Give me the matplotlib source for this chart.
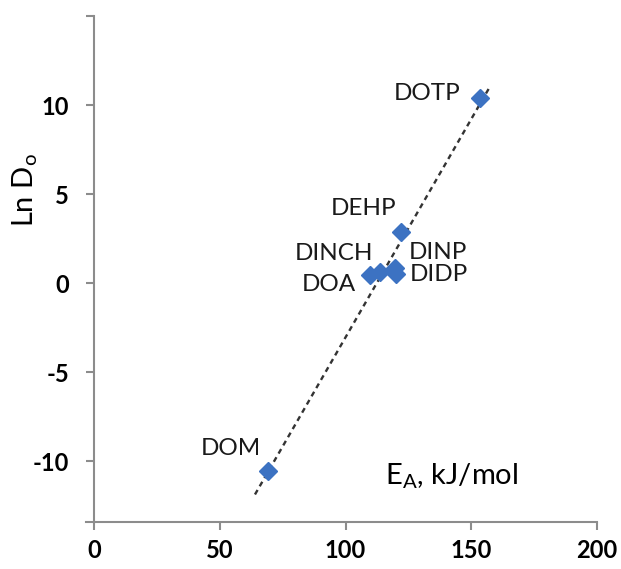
import numpy as np
import matplotlib
matplotlib.use("Agg")
import matplotlib.pyplot as plt

plt.rcParams['font.family'] = ['Lato', 'DejaVu Sans']

# plasticizers: activation energy vs ln D0
names = ["DOTP", "DEHP", "DINP", "DIDP", "DINCH", "DOA", "DOM"]
ea = [153.3, 122.0, 119.6, 120.2, 113.7, 109.7, 69.3]
ln_d0 = [10.4, 2.9, 0.85, 0.5, 0.62, 0.45, -10.55]

# trendline drawn a little past the data on both sides
trend_x = [64, 157]

# label text anchor (offset in points) per point
label_offsets = {
    "DOTP": (-14, 3, "right"),
    "DEHP": (-3.5, 16.5, "right"),
    "DINP": (10, 11, "left"),
    "DIDP": (9.5, 0, "left"),
    "DINCH": (-5, 13.5, "right"),
    "DOA": (-10, -6.5, "right"),
    "DOM": (-5, 16.5, "right"),
}

fig = plt.figure(figsize=(6.21, 5.69), dpi=100)
ax = fig.add_axes([0.1514, 0.0826, 0.81, 0.8893])

coef = np.polyfit(ea, ln_d0, 1)
tx = np.array(trend_x, dtype=float)
ax.plot(tx, np.polyval(coef, tx), color="#333333", lw=1.7,
        dashes=(2.2, 1.8), zorder=2)

ax.plot(ea, ln_d0, linestyle="none", marker="D", ms=9,
        color="#3C72C2", markeredgecolor="#3C72C2", zorder=3)

for n, x, y in zip(names, ea, ln_d0):
    dx, dy, ha = label_offsets[n]
    ax.annotate(n, (x, y), xytext=(dx, dy), textcoords="offset points",
                ha=ha, va="center", fontsize=17.5, color="#1a1a1a")

ax.set_xlim(0, 200)
ax.set_ylim(-13.4, 15)
ax.set_xticks([0, 50, 100, 150, 200])
ax.set_yticks([-10, -5, 0, 5, 10, 15])
ax.set_yticklabels(["-10", "-5", "0", "5", "10", ""])

for s in ["top", "right"]:
    ax.spines[s].set_visible(False)
for s in ["left", "bottom"]:
    ax.spines[s].set_color("#8c8c8c")
    ax.spines[s].set_linewidth(1.5)
ax.spines["bottom"].set_bounds(-3.2, 200)

ax.tick_params(axis="both", direction="out", length=6, width=1.5,
               color="#8c8c8c", labelsize=17)
ax.tick_params(axis="x", pad=6.5)
ax.tick_params(axis="y", pad=12)
for lab in ax.get_xticklabels() + ax.get_yticklabels():
    lab.set_fontweight("bold")

ax.text(0.578, 0.09, r"E$_\mathregular{A}$, kJ/mol", transform=ax.transAxes,
        fontsize=21, ha="left", va="center")
ax.set_ylabel(r"Ln D$_\mathregular{o}$", fontsize=21)
ax.yaxis.set_label_coords(-0.108, 0.656)

fig.savefig("out.png", dpi=100)
